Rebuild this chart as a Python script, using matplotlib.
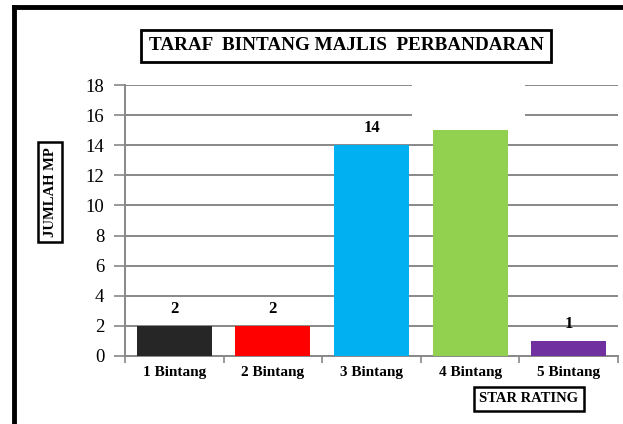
import matplotlib
matplotlib.use("Agg")
import matplotlib.pyplot as plt
from matplotlib.patches import Rectangle
from matplotlib.lines import Line2D

categories = ["1 Bintang", "2 Bintang", "3 Bintang", "4 Bintang", "5 Bintang"]
values = [2, 2, 14, 15, 1]
labels = ["2", "2", "14", "", "1"]
colors = ["#262626", "#FF0000", "#00B0F0", "#92D050", "#7030A0"]
yticks = [0, 2, 4, 6, 8, 10, 12, 14, 16, 18]

W, H = 623, 424
fig = plt.figure(figsize=(W / 100, H / 100), dpi=100)
fig.patch.set_facecolor("white")
serif = ["Liberation Serif", "DejaVu Serif"]

ax = fig.add_axes([125 / W, 1 - 356 / H, (618 - 125) / W, (356 - 85) / H])
x = list(range(len(categories)))
ax.bar(x, values, width=0.76, color=colors, zorder=3)
ax.set_xlim(-0.5, len(categories) - 0.5)
ax.set_ylim(0, 18)
ax.set_yticks(yticks)
ax.set_yticklabels([str(t) for t in yticks], fontfamily=serif, fontsize=13.5)
ax.yaxis.grid(True, color="#888888", linewidth=1.4, zorder=0)
ax.set_axisbelow(True)
for s in ["top", "right"]:
    ax.spines[s].set_visible(False)
for s in ["left", "bottom"]:
    ax.spines[s].set_color("#888888")
    ax.spines[s].set_linewidth(1.4)
ax.tick_params(axis="y", length=8, width=1.2, color="#888888", pad=7)
ax.set_xticks([i - 0.5 for i in range(len(categories) + 1)], minor=False)
ax.set_xticklabels([""] * (len(categories) + 1))
ax.tick_params(axis="x", which="major", length=5, width=1.2, color="#888888", direction="out")
ax.set_xticks(x, minor=True)
ax.set_xticklabels(categories, minor=True, fontfamily=serif, fontsize=11, fontweight="bold")
ax.tick_params(axis="x", which="minor", length=0, pad=7)

# white masking box over top gridlines (empty label area)
ax.add_patch(Rectangle((2.41, 15.4), 1.147, 3.2, facecolor="white", edgecolor="none",
                       zorder=1, clip_on=False))

for xi, v, lab in zip(x, values, labels):
    if lab:
        ax.text(xi, v + 0.6, lab, ha="center", va="bottom", fontfamily=serif,
                fontsize=12, fontweight="bold", zorder=4)

# title box
fig.text(346 / W, 1 - 46 / H, "TARAF  BINTANG MAJLIS  PERBANDARAN", ha="center", va="center",
         fontfamily=serif, fontsize=13.8, fontweight="bold",
         bbox=dict(boxstyle="square,pad=0.38", facecolor="white", edgecolor="black", linewidth=2))

# y label box
fig.text(50 / W, 1 - 192 / H, "JUMLAH MP", ha="center", va="center", rotation=90,
         fontfamily=serif, fontsize=10.5, fontweight="bold",
         bbox=dict(boxstyle="square,pad=0.35", facecolor="white", edgecolor="black", linewidth=1.8))

# x label box
fig.text(529 / W, 1 - 399 / H, "STAR RATING", ha="center", va="center",
         fontfamily=serif, fontsize=10.5, fontweight="bold",
         bbox=dict(boxstyle="square,pad=0.4", facecolor="white", edgecolor="black", linewidth=1.8))

# outer frame (left and top only visible)
fig.add_artist(Line2D([14 / W, 14 / W], [0, 1 - 7 / H], color="black", linewidth=3.5))
fig.add_artist(Line2D([14 / W, 1], [1 - 7 / H, 1 - 7 / H], color="black", linewidth=3.5))

fig.savefig("out.png", dpi=100, facecolor="white")
